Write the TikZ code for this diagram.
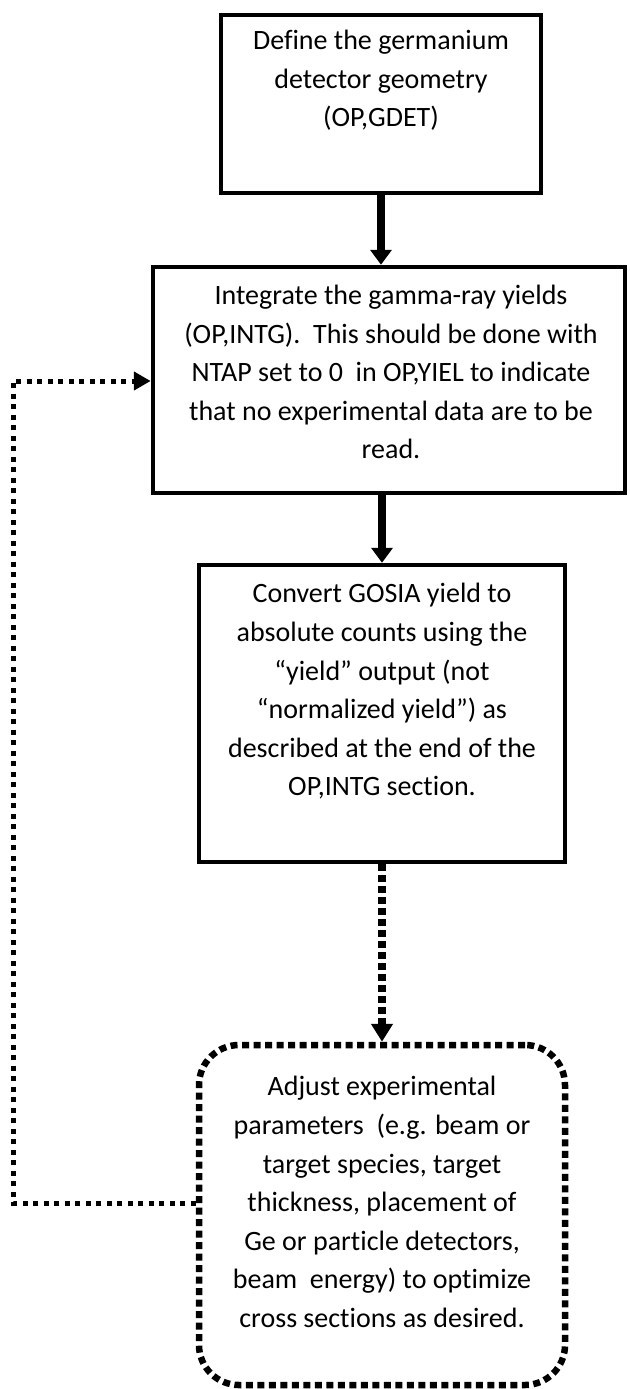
\documentclass[tikz,border=0pt]{standalone}
\usepackage{fontspec}
\setmainfont{Carlito}[Ligatures=CommonOff]
\usetikzlibrary{arrows.meta}
\begin{document}
\begin{tikzpicture}[x=1pt,y=-1pt,
  solidbox/.style={draw, line width=4.5pt, inner sep=0pt},
  dotbox/.style={draw, line width=6.5pt, dash pattern=on 7pt off 4.5pt, rounded corners=40pt, inner sep=0pt},
  txt/.style={align=center, font=\fontsize{28}{38.6}\selectfont, inner sep=0pt},
  arr/.style={line width=8pt, -{Triangle[length=15pt,width=21pt]}},
  darr/.style={line width=8pt, dash pattern=on 7pt off 4pt, -{Triangle[length=18pt,width=21pt]}},
  fbline/.style={line width=5pt, dash pattern=on 5pt off 5.5pt, -{Triangle[length=17pt,width=18pt]}}]
\useasboundingbox[fill=white] (0,0) rectangle (629,1389);
% boxes
\node[solidbox, minimum width=320pt, minimum height=178pt] (b1) at (381,104) {};
\node[solidbox, minimum width=472pt, minimum height=226pt] (b2) at (389,380) {};
\node[solidbox, minimum width=366pt, minimum height=297pt] (b3) at (382,713.5) {};
\node[dotbox, minimum width=366pt, minimum height=340pt] (b4) at (382,1215) {};
% texts
\node[txt] (t1) at (381,80.5) {Define the germanium\\detector geometry\\(OP,GDET)};
\node[txt] (t2) at (391,372) {Integrate the gamma-ray yields\\(OP,INTG).\ \ This should be done with\\NTAP set to 0\ \ in OP,YIEL to indicate\\that no experimental data are to be\\read.};
\node[txt] (t3) at (382,691.5) {Convert GOSIA yield to\\absolute counts using the\\“yield” output (not\\“normalized yield”) as\\described at the end of the\\OP,INTG section.};
\node[txt] (t4) at (382,1202) {Adjust experimental\\parameters\ \ (e.g. beam or\\target species, target\\thickness, placement of\\Ge or particle detectors,\\beam\ \ energy) to optimize\\cross sections as desired.};
% connectors
\draw[arr] (b1.south) -- (b1.south |- b2.north);
\draw[arr] (b3.north |- b2.south) -- (b3.north);
\draw[darr] (b3.south) -- (b4.north);
\coordinate (fa) at (13,1203);
\coordinate (fb) at (13,381);
\draw[fbline] (b4.west |- fa) -- (fa) -- (fb) -- (b2.west |- fb);
\end{tikzpicture}
\end{document}
